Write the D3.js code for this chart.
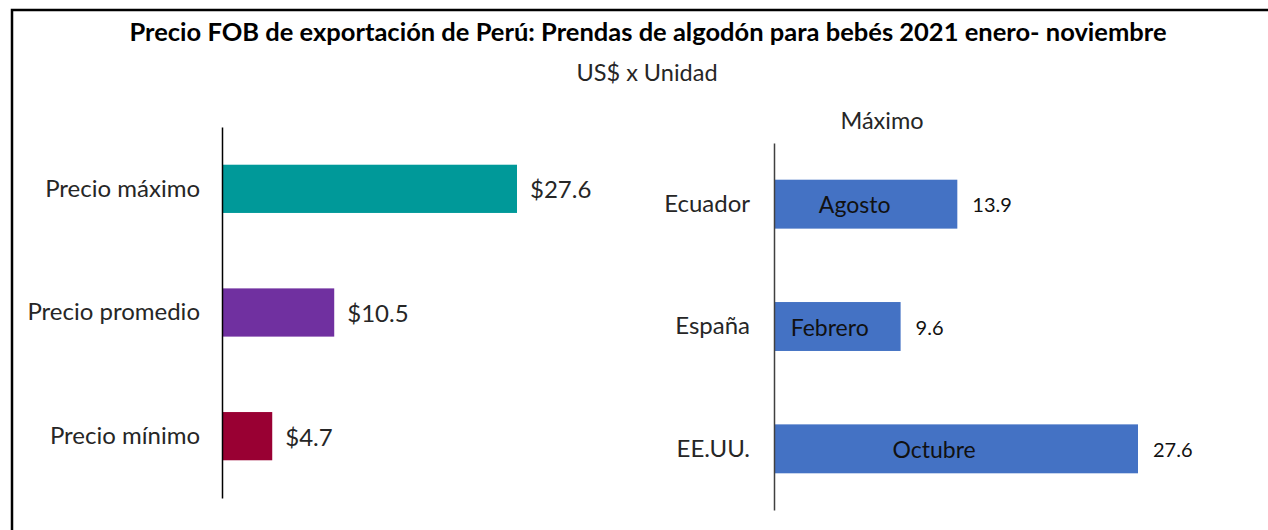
<!DOCTYPE html>
<html>
<head>
<meta charset="utf-8">
<script src="https://d3js.org/d3.v7.min.js"></script>
<style>
  body {margin:0; background:#fff;}
  text {font-family: Lato, sans-serif;}
</style>
</head>
<body>
<div id="chart"></div>
<script>
// left panel: precios
var precioCats = ["Precio máximo", "Precio promedio", "Precio mínimo"];
var precioVals = [27.6, 10.5, 4.7];
var precioColors = ["#009999", "#7030A0", "#990033"];

// right panel: máximo por país
var paisCats = ["Ecuador", "España", "EE.UU."];
var paisVals = [13.9, 9.6, 27.6];
var paisMeses = ["Agosto", "Febrero", "Octubre"];

var W = 1268, H = 530;
var svg = d3.select("#chart").append("svg")
    .attr("width", W).attr("height", H);

svg.append("rect").attr("width", W).attr("height", H).attr("fill", "#fff");

// frame (cut at right/bottom like the screenshot)
svg.append("rect")
    .attr("x", 12).attr("y", 10)
    .attr("width", W).attr("height", H)
    .attr("fill", "none").attr("stroke", "#000").attr("stroke-width", 2.5);

svg.append("text")
    .attr("x", 648).attr("y", 41)
    .attr("text-anchor", "middle")
    .attr("font-size", 25.5).attr("font-weight", "bold")
    .attr("fill", "#000")
    .text("Precio FOB de exportación de Perú: Prendas de algodón para bebés 2021 enero- noviembre");

svg.append("text")
    .attr("x", 647).attr("y", 81)
    .attr("text-anchor", "middle")
    .attr("font-size", 23.5).attr("fill", "#262626")
    .text("US$ x Unidad");

// ---- left chart
var x1 = d3.scaleLinear().domain([0, 27.6]).range([222, 517]);
var y1 = d3.scaleBand().domain(precioCats).range([127, 498]).paddingInner(0.61).paddingOuter(0.305);

var g1 = svg.append("g");
g1.selectAll("rect").data(precioVals).enter()
    .append("rect")
    .attr("x", x1(0))
    .attr("y", function(d, i) { return y1(precioCats[i]); })
    .attr("width", function(d) { return x1(d) - x1(0); })
    .attr("height", y1.bandwidth())
    .attr("fill", function(d, i) { return precioColors[i]; });

g1.selectAll(".val").data(precioVals).enter()
    .append("text").attr("class", "val")
    .attr("x", function(d) { return x1(d) + 13; })
    .attr("y", function(d, i) { return y1(precioCats[i]) + y1.bandwidth() / 2 + 1; })
    .attr("dy", "0.35em")
    .attr("font-size", 24).attr("fill", "#262626")
    .text(function(d) { return "$" + d; });

var ax1 = g1.append("g").attr("transform", "translate(" + x1(0) + ",0)")
    .call(d3.axisLeft(y1).tickSize(0).tickPadding(22));
ax1.select(".domain").attr("stroke", "#000").attr("stroke-width", 1.5);
ax1.selectAll("text").attr("font-size", 24).attr("fill", "#262626")
    .attr("font-family", "Lato, sans-serif");

// ---- right chart
var x2 = d3.scaleLinear().domain([0, 27.6]).range([774, 1138]);
var y2 = d3.scaleBand().domain(paisCats).range([143, 510]).paddingInner(0.6).paddingOuter(0.3);

var g2 = svg.append("g");
svg.append("text")
    .attr("x", 882).attr("y", 129)
    .attr("text-anchor", "middle")
    .attr("font-size", 23.5).attr("fill", "#262626")
    .text("Máximo");

g2.selectAll("rect").data(paisVals).enter()
    .append("rect")
    .attr("x", x2(0))
    .attr("y", function(d, i) { return y2(paisCats[i]); })
    .attr("width", function(d) { return x2(d) - x2(0); })
    .attr("height", y2.bandwidth())
    .attr("fill", "#4472C4");

g2.selectAll(".mes").data(paisVals).enter()
    .append("text").attr("class", "mes")
    .attr("x", function(d) { return x2(d * 0.44); })
    .attr("y", function(d, i) { return y2(paisCats[i]) + y2.bandwidth() / 2 + 1; })
    .attr("dy", "0.35em")
    .attr("text-anchor", "middle")
    .attr("font-size", 23).attr("fill", "#111")
    .text(function(d, i) { return paisMeses[i]; });

g2.selectAll(".val").data(paisVals).enter()
    .append("text").attr("class", "val")
    .attr("x", function(d) { return x2(d) + 15; })
    .attr("y", function(d, i) { return y2(paisCats[i]) + y2.bandwidth() / 2 + 1; })
    .attr("dy", "0.35em")
    .attr("font-size", 20).attr("fill", "#111")
    .text(function(d) { return d; });

var ax2 = g2.append("g").attr("transform", "translate(" + x2(0) + ",0)")
    .call(d3.axisLeft(y2).tickSize(0).tickPadding(24));
ax2.select(".domain").attr("stroke", "#404040").attr("stroke-width", 1.5);
ax2.selectAll("text").attr("font-size", 24).attr("fill", "#262626")
    .attr("font-family", "Lato, sans-serif");
</script>
</body>
</html>
